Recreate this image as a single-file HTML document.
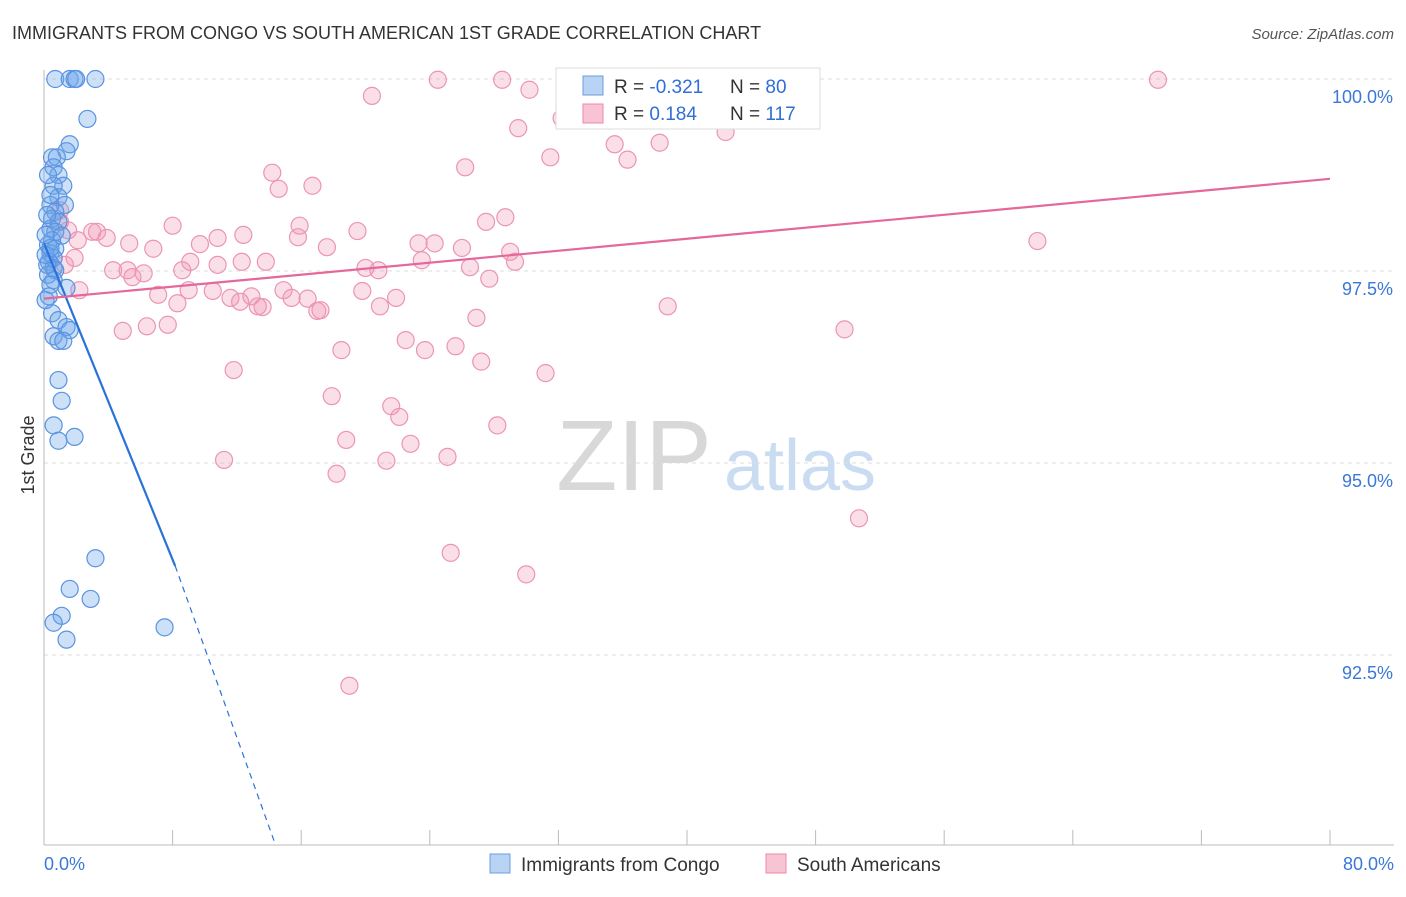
<!DOCTYPE html>
<html><head><meta charset="utf-8"><style>
body{margin:0;background:#fff;font-family:"Liberation Sans",sans-serif}
svg text{font-family:"Liberation Sans",sans-serif}
</style></head><body>
<svg id="c" width="1406" height="892">
<text x="12" y="39" font-size="18" fill="#333">IMMIGRANTS FROM CONGO VS SOUTH AMERICAN 1ST GRADE CORRELATION CHART</text>
<text x="1394" y="39" font-size="15" fill="#555" text-anchor="end" font-style="italic">Source: ZipAtlas.com</text>
<text x="34" y="455" font-size="18" fill="#333" transform="rotate(-90 34 455)" text-anchor="middle">1st Grade</text>
<text x="634" y="490" font-size="100" fill="#d8d8d8" text-anchor="middle" font-family="Liberation Serif">ZIP</text>
<text x="800" y="490" font-size="72" fill="#c9dcf2" text-anchor="middle">atlas</text>
<g id="grid"></g><g id="pts"></g><g id="lines"></g>
<g>
<rect x="556" y="68" width="264" height="61" fill="#fff" stroke="#ddd"/>
<rect x="583" y="76" width="20" height="19" fill="#b9d3f5" stroke="#6a9ee0"/>
<rect x="583" y="104" width="20" height="19" fill="#f8c4d4" stroke="#e88aaa"/>
<text x="614" y="93" font-size="19" fill="#333">R = <tspan fill="#2f6fd6">-0.321</tspan></text>
<text x="730" y="93" font-size="19" fill="#333">N = <tspan fill="#2f6fd6">80</tspan></text>
<text x="614" y="120" font-size="19" fill="#333">R = <tspan fill="#2f6fd6"> 0.184</tspan></text>
<text x="730" y="120" font-size="19" fill="#333">N = <tspan fill="#2f6fd6">117</tspan></text>
</g>
<g>
<rect x="490" y="854" width="20" height="19" fill="#b9d3f5" stroke="#6a9ee0"/>
<text x="521" y="871" font-size="19" fill="#333">Immigrants from Congo</text>
<rect x="766" y="854" width="20" height="19" fill="#f8c4d4" stroke="#e88aaa"/>
<text x="797" y="871" font-size="19" fill="#333">South Americans</text>
</g>
</svg>
<script>
const yTicks=[100,97.5,95,92.5];
const yTickLabels=["100.0%","97.5%","95.0%","92.5%"];
const xTickLabels=["0.0%","80.0%"];
const congoX=[0.7,1.6,1.9,2.0,3.2,2.7,1.6,1.4,0.5,0.8,0.6,0.9,1.2,0.6,0.9,1.3,0.4,0.7,0.5,0.9,0.4,0.7,1.1,0.5,0.25,0.7,0.4,0.6,0.3,0.6,0.7,0.25,0.6,0.4,1.4,0.3,0.5,0.9,1.4,1.6,0.6,0.9,1.2,0.9,1.1,0.6,0.9,1.9,3.2,1.6,2.9,1.1,0.6,1.4,7.5,0.1,0.2,0.1,0.4,0.1,0.2,0.4,0.25];
const congoY=[100,100,100,100,100,99.48,99.15,99.06,98.98,98.98,98.85,98.75,98.61,98.61,98.46,98.36,98.36,98.27,98.18,98.14,98.05,98.01,97.96,97.9,97.84,97.79,97.73,97.67,97.62,97.54,97.51,97.45,97.38,97.32,97.28,97.17,96.95,96.86,96.77,96.73,96.65,96.59,96.59,96.08,95.81,95.49,95.29,95.34,93.76,93.36,93.23,93.01,92.92,92.7,92.86,97.12,97.58,97.71,97.8,97.97,98.23,98.49,98.75];
const saX=[24.5,28.5,32.5,39.4,69.3,20.4,30.2,32.2,29.5,35.5,38.3,31.5,36.3,42.4,26.2,14.2,14.6,16.7,8.0,10.8,12.4,9.7,15.8,15.9,17.6,19.5,27.5,28.7,23.3,24.3,26.0,29.0,29.3,61.8,6.8,3.0,3.3,5.3,3.9,1.9,2.1,1.5,1.0,4.3,5.2,5.5,6.2,9.1,8.6,10.8,12.3,13.8,20.0,20.8,23.5,26.5,27.7,9.0,7.1,8.3,10.5,11.6,12.2,12.9,13.3,13.6,14.9,15.4,16.4,17.0,17.2,19.8,20.9,21.9,26.9,38.8,4.9,6.4,7.7,22.5,23.7,25.6,27.2,18.5,31.2,11.8,49.8,17.9,21.6,22.1,18.8,22.8,28.2,11.2,21.3,25.1,18.2,50.7,25.3,30.0,19.0,1.0,1.3,2.2];
const saY=[99.99,99.99,99.99,99.96,99.99,99.78,99.86,99.49,99.36,99.15,99.17,98.98,98.95,99.31,98.85,98.78,98.57,98.61,98.09,97.93,97.97,97.85,97.94,98.09,97.81,98.02,98.14,98.2,97.86,97.86,97.8,97.75,97.62,97.89,97.79,98.01,98.01,97.86,97.93,97.67,97.9,98.03,98.14,97.51,97.51,97.42,97.47,97.62,97.51,97.58,97.62,97.62,97.54,97.51,97.64,97.55,97.4,97.25,97.19,97.08,97.24,97.15,97.1,97.17,97.04,97.03,97.25,97.15,97.14,96.98,96.99,97.24,97.04,97.15,96.89,97.04,96.72,96.78,96.8,96.6,96.47,96.52,96.32,96.47,96.17,96.21,96.74,95.87,95.74,95.6,95.3,95.25,95.49,95.04,95.03,95.08,94.86,94.28,93.83,93.55,92.1,98.29,97.58,97.25];
const congoTrend=[[0,97.86],[8.16,93.66],[14.4,90.03]];
const saTrend=[[0,97.14],[80,98.70]];
const X=v=>44+v*16.075, Y=v=>79+(100-v)*76.8;
const NS="http://www.w3.org/2000/svg";
function mk(t,a,p){const e=document.createElementNS(NS,t);for(const k in a)e.setAttribute(k,a[k]);p.appendChild(e);return e;}
const grid=document.getElementById('grid');
yTicks.forEach((v,i)=>{
 const l=mk('line',{x1:44,x2:1394,y1:Y(v),y2:Y(v),stroke:'#ddd','stroke-dasharray':'4,4'},grid);
 
 
 const t=mk('text',{x:1393,y:Y(v)+24,'font-size':18,fill:'#3a78d8','text-anchor':'end'},grid);
 t.textContent=yTickLabels[i];
 
 
});
mk('line',{x1:44,x2:44,y1:70,y2:845,stroke:'#bbb'},grid);
mk('line',{x1:44,x2:1394,y1:845,y2:845,stroke:'#bbb'},grid);
for(let i=0;i<=10;i++){const tk=mk('line',{x1:X(i*8),x2:X(i*8),y1:830,y2:845,stroke:'#bbb'},grid);
 
 }
[[0,'start',44],[80,'end',1394]].forEach((d,i)=>{const t=mk('text',{x:d[2],y:870,'font-size':18,fill:'#3a78d8','text-anchor':d[1]},grid);t.textContent=xTickLabels[i];
 
 });
const pts=document.getElementById('pts');
saX.forEach((x,i)=>{const c=mk('circle',{cx:X(x),cy:Y(saY[i]),r:8.5,fill:'rgba(242,150,180,0.3)',stroke:'#eb95b2','stroke-width':1.2},pts);
 
 });
congoX.forEach((x,i)=>{const c=mk('circle',{cx:X(x),cy:Y(congoY[i]),r:8.5,fill:'rgba(110,165,235,0.35)',stroke:'#5a93e0','stroke-width':1.2},pts);
 
 });
const ln=document.getElementById('lines');
const a=mk('line',{x1:X(congoTrend[0][0]),y1:Y(congoTrend[0][1]),x2:X(congoTrend[1][0]),y2:Y(congoTrend[1][1]),stroke:'#2a72d8','stroke-width':2.2},ln);


const b=mk('line',{x1:X(congoTrend[1][0]),y1:Y(congoTrend[1][1]),x2:X(congoTrend[2][0]),y2:Y(congoTrend[2][1]),stroke:'#2a72d8','stroke-width':1.2,'stroke-dasharray':'6,5'},ln);


const s=mk('line',{x1:X(saTrend[0][0]),y1:Y(saTrend[0][1]),x2:X(saTrend[1][0]),y2:Y(saTrend[1][1]),stroke:'#e4689a','stroke-width':2.2},ln);


</script>
</body></html>
